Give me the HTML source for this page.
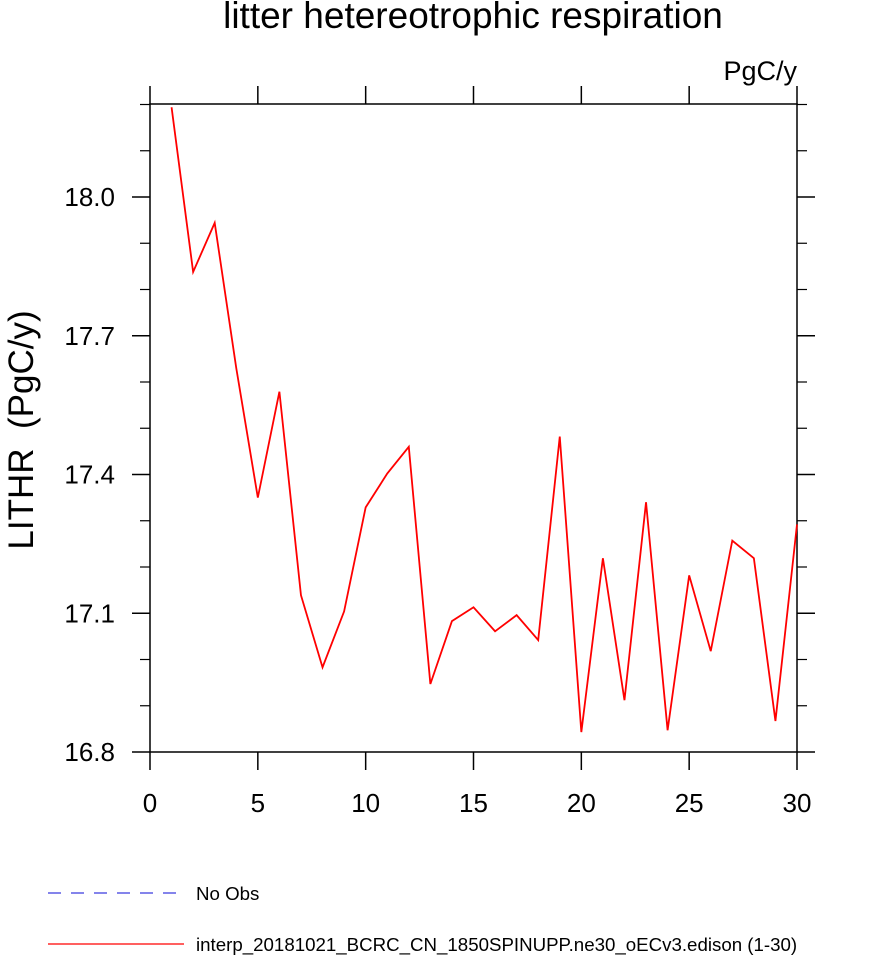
<!DOCTYPE html>
<html><head><meta charset="utf-8"><style>
body{margin:0;background:#fff;font-family:"Liberation Sans",sans-serif}
</style></head><body>
<svg width="896" height="958" viewBox="0 0 896 958" font-family="Liberation Sans, sans-serif">
<text x="473" y="28" font-size="37" text-anchor="middle">litter hetereotrophic respiration</text>
<text x="797" y="80" font-size="27" text-anchor="end">PgC/y</text>
<text transform="translate(33,430) rotate(-90)" font-size="35" text-anchor="middle">LITHR &#160;(PgC/y)</text>
<g id="axes"></g>
<g id="series"></g>
<g>
<line x1="48" y1="893" x2="184" y2="893" stroke="#3a3adf" stroke-width="1.2" stroke-dasharray="13,10"/>
<text x="196" y="900" font-size="18.7">No Obs</text>
<line x1="48" y1="944" x2="184" y2="944" stroke="#f00" stroke-width="1.2"/>
<text x="196" y="951" font-size="18.7">interp_20181021_BCRC_CN_1850SPINUPP.ne30_oECv3.edison (1-30)</text>
</g>
</svg>
<script>
const years=[1,2,3,4,5,6,7,8,9,10,11,12,13,14,15,16,17,18,19,20,21,22,23,24,25,26,27,28,29,30];
const values=[18.194,17.838,17.944,17.63,17.350,17.579,17.139,16.983,17.104,17.329,17.402,17.460,16.947,17.083,17.113,17.061,17.096,17.042,17.482,16.843,17.219,16.912,17.340,16.847,17.182,17.018,17.257,17.219,16.867,17.292];
const xTicks=[0,5,10,15,20,25,30];
const yTicks=["16.8","17.1","17.4","17.7","18.0"];
const yMinor=[16.9,17.0,17.2,17.3,17.5,17.6,17.8,17.9,18.1,18.2];
const NS="http://www.w3.org/2000/svg";
const L=150,R=797,T=104,B=752,xMin=0,xMax=30;
const xs=v=>L+(v-xMin)/(xMax-xMin)*(R-L);
const yScale=v=>752-(v-16.8)*(752-197)/1.2;
function mk(tag,attrs,parent){const e=document.createElementNS(NS,tag);for(const k in attrs)e.setAttribute(k,attrs[k]);parent.appendChild(e);return e;}
const ax=document.getElementById('axes');
const frame=mk('rect',{x:L,y:T,width:R-L,height:B-T,fill:'none',stroke:'#000','stroke-width':1.5},ax);


xTicks.forEach(t=>{const x=xs(t);
 const a=mk('line',{x1:x,y1:B,x2:x,y2:B+18,stroke:'#000','stroke-width':1.5},ax);
 
 
 const b=mk('line',{x1:x,y1:T,x2:x,y2:T-18,stroke:'#000','stroke-width':1.5},ax);
 
 
 const tx=mk('text',{x:x,y:812,'font-size':26,'text-anchor':'middle'},ax);tx.textContent=t;
 
 
});
yTicks.forEach(t=>{const y=yScale(parseFloat(t));
 const a=mk('line',{x1:L-18,y1:y,x2:L,y2:y,stroke:'#000','stroke-width':1.5},ax);
 
 
 const b=mk('line',{x1:R,y1:y,x2:R+18,y2:y,stroke:'#000','stroke-width':1.5},ax);
 
 
 const tx=mk('text',{x:115,y:y+9,'font-size':26,'text-anchor':'end'},ax);tx.textContent=t;
 
 
});
yMinor.forEach(t=>{const y=yScale(t);
 const a=mk('line',{x1:L-10,y1:y,x2:L,y2:y,stroke:'#000','stroke-width':1.2},ax);
 
 
 const b=mk('line',{x1:R,y1:y,x2:R+10,y2:y,stroke:'#000','stroke-width':1.2},ax);
 
 
});
const pts=years.map((d,i)=>xs(d)+','+yScale(values[i])).join(' ');
const line=mk('polyline',{points:pts,fill:'none',stroke:'#f00','stroke-width':1.8},document.getElementById('series'));


</script>
</body></html>
